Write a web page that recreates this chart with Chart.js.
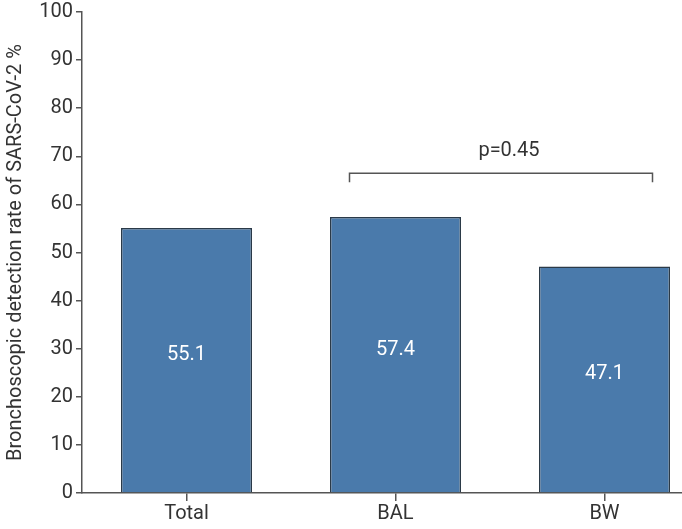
<!DOCTYPE html>
<html>
<head>
<meta charset="utf-8">
<script src="https://cdn.jsdelivr.net/npm/chart.js@4/dist/chart.umd.min.js"></script>
<style>
  html, body { margin: 0; padding: 0; background: #fff; overflow: hidden; }
  #wrap { width: 712px; height: 529px; }
</style>
</head>
<body>
<div id="wrap"><canvas id="c"></canvas></div>
<script>
// data
const categories = ['Total', 'BAL', 'BW'];
const rates = [55.1, 57.4, 47.1];
const yTicks = [0, 10, 20, 30, 40, 50, 60, 70, 80, 90, 100];
const comparison = { from: 1, to: 2, level: 66.5, label: 'p=0.45' };

const FONT = 'Roboto, "DejaVu Sans", sans-serif';
const INK = '#333333';

// labels inside bars + significance bracket
const extras = {
  id: 'extras',
  afterDatasetsDraw(chart) {
    const ctx = chart.ctx;
    const meta = chart.getDatasetMeta(0);
    ctx.save();
    ctx.fillStyle = '#ffffff';
    ctx.font = '20px ' + FONT;
    ctx.textAlign = 'center';
    ctx.textBaseline = 'middle';
    meta.data.forEach((bar, i) => {
      const mid = (bar.y + bar.base) / 2 - 5;
      ctx.fillText(rates[i].toFixed(1), bar.x, mid);
    });

    const x = chart.scales.x, y = chart.scales.y;
    const x1 = x.getPixelForValue(comparison.from) - 46;
    const x2 = x.getPixelForValue(comparison.to) + 48;
    const yb = y.getPixelForValue(comparison.level);
    ctx.strokeStyle = '#555';
    ctx.lineWidth = 1.5;
    ctx.beginPath();
    ctx.moveTo(x1, yb + 9);
    ctx.lineTo(x1, yb);
    ctx.lineTo(x2, yb);
    ctx.lineTo(x2, yb + 9);
    ctx.stroke();
    ctx.fillStyle = INK;
    ctx.font = '20px ' + FONT;
    ctx.textBaseline = 'alphabetic';
    ctx.fillText(comparison.label, (x1 + x2) / 2 + 8, yb - 17);
    ctx.restore();
  }
};

new Chart(document.getElementById('c'), {
  type: 'bar',
  data: {
    labels: categories,
    datasets: [{
      data: rates,
      backgroundColor: '#4a7aab',
      borderColor: '#2b3a48',
      borderWidth: 1.5,
      borderSkipped: 'bottom',
      barPercentage: 1,
      categoryPercentage: 0.627
    }]
  },
  options: {
    responsive: true,
    maintainAspectRatio: false,
    animation: false,
    layout: { padding: { top: 12, right: 3, left: 4, bottom: 0 } },
    plugins: { legend: { display: false }, tooltip: { enabled: false } },
    scales: {
      x: {
        grid: { display: true, offset: false, drawOnChartArea: false, drawTicks: true, tickLength: 8, color: '#555', lineWidth: 1.5 },
        border: { display: true, color: '#555', width: 1.5 },
        ticks: { color: INK, font: { family: FONT, size: 20 }, padding: 1 },
        afterFit(s) { s.height = 36; }
      },
      y: {
        min: 0,
        max: 100,
        afterBuildTicks(s) { s.ticks = yTicks.map(v => ({ value: v })); },
        grid: { display: true, drawOnChartArea: false, drawTicks: true, tickLength: 6, color: '#555', lineWidth: 1.5 },
        border: { display: true, color: '#555', width: 1.5 },
        ticks: { color: INK, font: { family: FONT, size: 20, lineHeight: 1 }, padding: 3 },
        title: {
          display: true,
          text: 'Bronchoscopic detection rate of SARS-CoV-2 %',
          color: INK,
          font: { family: FONT, size: 20 },
          padding: { top: 0, bottom: 0 }
        },
        afterFit(s) { s.width = 78; s.paddingTop = 0; }
      }
    }
  },
  plugins: [extras]
});
</script>
</body>
</html>
